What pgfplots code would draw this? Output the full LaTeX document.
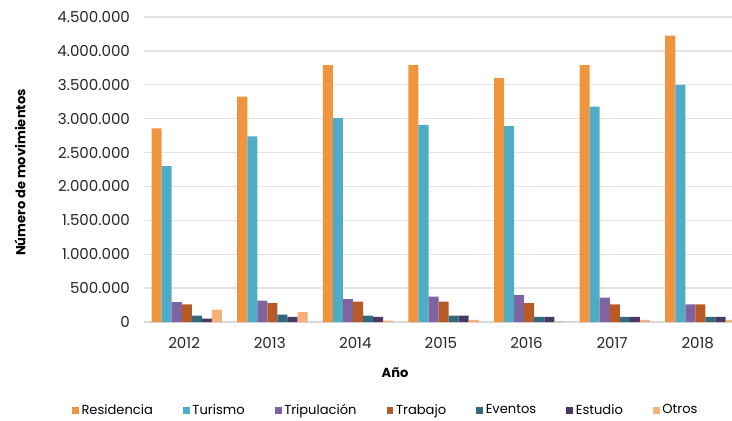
\documentclass[border=0pt]{standalone}
\usepackage{pgfplots}
\pgfplotsset{compat=1.18}
\usepackage{fontspec}
\setmainfont{Poppins}
\definecolor{cRes}{HTML}{F0953F}
\definecolor{cTur}{HTML}{4FACC6}
\definecolor{cTri}{HTML}{8064A2}
\definecolor{cTra}{HTML}{B85A26}
\definecolor{cEve}{HTML}{2E6B7D}
\definecolor{cEst}{HTML}{4A3A63}
\definecolor{cOtr}{HTML}{F6B07A}
\begin{document}
\begin{tikzpicture}
\begin{axis}[
  name=a,
  scale only axis,
  width=449.4pt, height=228.75pt,
  ybar=0pt, bar width=0.1174,
  xmin=-0.5, xmax=6.5,
  ymin=0, ymax=4500000,
  ytick={0,500000,1000000,1500000,2000000,2500000,3000000,3500000,4000000,4500000},
  yticklabels={0,500.000,1.000.000,1.500.000,2.000.000,2.500.000,3.000.000,3.500.000,4.000.000,4.500.000},
  xtick={0,...,6},
  xticklabels={2012,2013,2014,2015,2016,2017,2018},
  scaled y ticks=false,
  ymajorgrids,
  grid style={gray!22, line width=1pt},
  axis x line*=bottom, axis y line*=left,
  y axis line style={draw=none},
  x axis line style={gray!30, line width=1.2pt},
  tick style={draw=none},
  tick label style={font=\fontsize{11.3}{12}\selectfont, text=black!85},
  yticklabel style={xshift=-7pt},
  xticklabel style={yshift=-4pt, xshift=-2pt},
  xlabel={\textbf{Año}},
  ylabel={\textbf{Número de movimientos}},
  label style={font=\fontsize{9.8}{12}\selectfont\bfseries},
  xlabel style={at={(axis description cs:0.419,-0.166)}, anchor=center},
  ylabel style={at={(axis description cs:-0.207,0.49)}, anchor=center},
  legend style={at={(axis description cs:0.404,-0.289)}, anchor=center,
    draw=none, legend columns=7, font=\fontsize{9.8}{12}\selectfont,
    /tikz/every even column/.append style={column sep=20.5pt}},
  legend image code/.code={\fill[#1] (0pt,-2.6pt) rectangle (5.2pt,2.6pt);},
]
\addplot[fill=cRes, draw=none] coordinates {(0,2855000) (1,3327000) (2,3789000) (3,3789000) (4,3597000) (5,3789000) (6,4226000)};
\addplot[fill=cTur, draw=none] coordinates {(0,2300000) (1,2737000) (2,3007000) (3,2909000) (4,2889000) (5,3179000) (6,3499000)};
\addplot[fill=cTri, draw=none] coordinates {(0,295000) (1,315000) (2,339000) (3,373000) (4,398000) (5,359000) (6,260000)};
\addplot[fill=cTra, draw=none] coordinates {(0,260000) (1,280000) (2,300000) (3,300000) (4,280000) (5,260000) (6,260000)};
\addplot[fill=cEve, draw=none] coordinates {(0,93000) (1,108000) (2,93000) (3,93000) (4,74000) (5,74000) (6,74000)};
\addplot[fill=cEst, draw=none] coordinates {(0,49000) (1,74000) (2,74000) (3,93000) (4,74000) (5,74000) (6,74000)};
\addplot[fill=cOtr, draw=none] coordinates {(0,182000) (1,147000) (2,20000) (3,30000) (4,10000) (5,30000) (6,30000)};
\legend{Residencia,Turismo,Tripulación,Trabajo,Eventos,Estudio,Otros}
\end{axis}
\pgfresetboundingbox
\path[use as bounding box] ([xshift=-108pt,yshift=-74.25pt]a.south west) rectangle ([xshift=441pt,yshift=241.5pt]a.south west);
\end{tikzpicture}
\end{document}
